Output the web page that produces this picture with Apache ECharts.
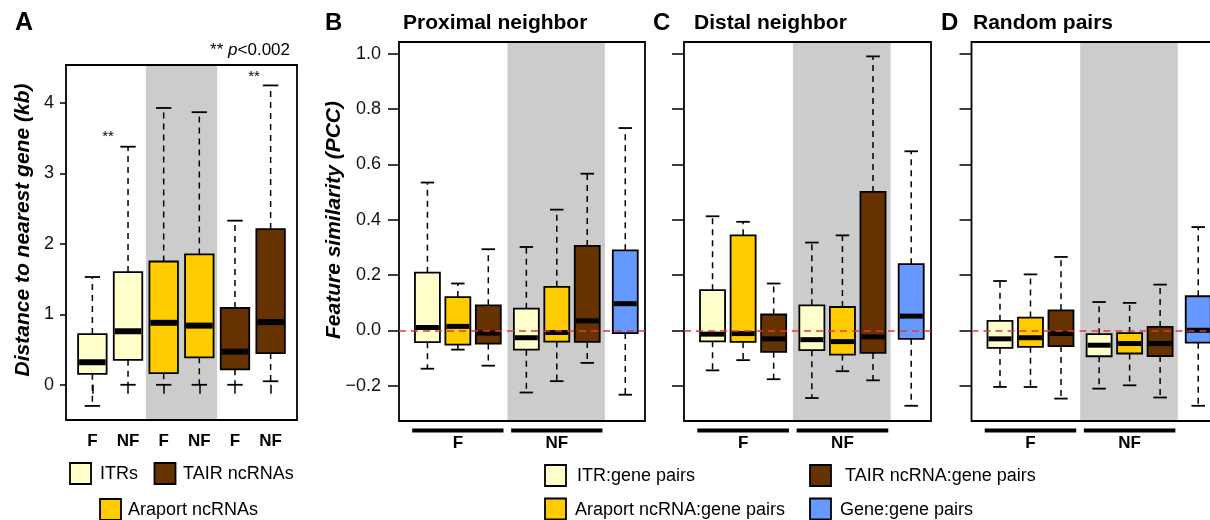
<!DOCTYPE html>
<html><head><meta charset="utf-8">
<script src="https://cdn.jsdelivr.net/npm/echarts@6/dist/echarts.min.js"></script>
<style>html,body{margin:0;padding:0;background:#fff}#c{width:1210px;height:520px}</style>
</head><body><div id="c"></div>
<script>
// ---------------- DATA (box stats: [lowWhisker, Q1, median, Q3, highWhisker]) ----------------
// Panel A: distance to nearest gene (kb); each array = [F, NF]
const distCategories = ['F', 'NF', 'F', 'NF', 'F', 'NF'];
const distITR     = [[-0.30, 0.156, 0.32, 0.72, 1.53], [0.00, 0.355, 0.76, 1.60, 3.38]];
const distAraport = [[0.00, 0.165, 0.88, 1.75, 3.93], [0.00, 0.39, 0.84, 1.85, 3.87]];
const distTAIR    = [[0.00, 0.22, 0.47, 1.09, 2.33], [0.05, 0.45, 0.89, 2.21, 4.25]];
const distTicks = [0, 1, 2, 3, 4];

// Panel B: proximal neighbor (PCC); [F, NF]
const proxITR     = [[-0.139, -0.043, 0.010, 0.208, 0.534], [-0.225, -0.070, -0.027, 0.078, 0.301]];
const proxAraport = [[-0.070, -0.052, 0.014, 0.120, 0.169], [-0.184, -0.041, -0.008, 0.157, 0.436]];
const proxTAIR    = [[-0.128, -0.048, -0.010, 0.090, 0.293], [-0.118, -0.042, 0.034, 0.305, 0.566]];
const proxGene    = [-0.233, -0.010, 0.096, 0.289, 0.731];

// Panel C: distal neighbor
const distalITR     = [[-0.145, -0.040, -0.014, 0.145, 0.412], [-0.245, -0.072, -0.034, 0.090, 0.317]];
const distalAraport = [[-0.108, -0.042, -0.012, 0.343, 0.392], [-0.148, -0.088, -0.041, 0.084, 0.343]];
const distalTAIR    = [[-0.177, -0.078, -0.031, 0.057, 0.169], [-0.181, -0.082, -0.024, 0.500, 0.990]];
const distalGene    = [-0.273, -0.031, 0.051, 0.239, 0.647];

// Panel D: random pairs
const randITR     = [[-0.205, -0.064, -0.031, 0.034, 0.178], [-0.211, -0.094, -0.054, -0.014, 0.102]];
const randAraport = [[-0.205, -0.060, -0.027, 0.046, 0.202], [-0.199, -0.084, -0.048, -0.010, 0.099]];
const randTAIR    = [[-0.247, -0.057, -0.012, 0.072, 0.265], [-0.243, -0.093, -0.048, 0.012, 0.165]];
const randGene    = [-0.273, -0.045, 0.000, 0.123, 0.373];

const pccTicks = [-0.2, 0, 0.2, 0.4, 0.6, 0.8, 1.0];
const groupLabels = ['F', 'NF'];
const panelTitles = ['Proximal neighbor', 'Distal neighbor', 'Random pairs'];

// ---------------- STYLE / LAYOUT ----------------
const FONT = '"Liberation Sans", Arial, Helvetica, sans-serif';
const colorList = ['#FFFFCC', '#FFCC00', '#663300', '#6699FF'];
const BAND = '#CCCCCC';

function renderBox(boxUnits, medianWidth) {
  return function (params, api) {
    const x = api.value(0);
    const pLow = api.coord([x, api.value(1)]);
    const pQ1 = api.coord([x, api.value(2)]);
    const pMed = api.coord([x, api.value(3)]);
    const pQ3 = api.coord([x, api.value(4)]);
    const pHigh = api.coord([x, api.value(5)]);
    const w = api.size([boxUnits, 0])[0];
    const cap = w * 0.27;
    const fill = colorList[api.value(6)];
    const dash = { stroke: '#000', lineWidth: 1.5, lineDash: [6, 5] };
    const solid = { stroke: '#000', lineWidth: 1.8 };
    return {
      type: 'group', children: [
        { type: 'line', shape: { x1: pQ3[0], y1: pQ3[1], x2: pHigh[0], y2: pHigh[1] }, style: dash },
        { type: 'line', shape: { x1: pQ1[0], y1: pQ1[1], x2: pLow[0], y2: pLow[1] }, style: dash },
        { type: 'line', shape: { x1: pHigh[0] - cap, y1: pHigh[1], x2: pHigh[0] + cap, y2: pHigh[1] }, style: solid },
        { type: 'line', shape: { x1: pLow[0] - cap, y1: pLow[1], x2: pLow[0] + cap, y2: pLow[1] }, style: solid },
        { type: 'rect', shape: { x: pQ3[0] - w / 2, y: pQ3[1], width: w, height: pQ1[1] - pQ3[1] },
          style: { fill: fill, stroke: '#000', lineWidth: 1.8 } },
        { type: 'line', shape: { x1: pMed[0] - w / 2 + 1, y1: pMed[1], x2: pMed[0] + w / 2 - 1, y2: pMed[1] },
          style: { stroke: '#000', lineWidth: medianWidth } }
      ]
    };
  };
}

function renderBand(params, api) {
  const cs = params.coordSys;
  const x0 = api.coord([api.value(0), 0])[0];
  const x1 = api.coord([api.value(1), 0])[0];
  return { type: 'rect', shape: { x: x0, y: cs.y, width: x1 - x0, height: cs.height }, style: { fill: BAND } };
}

function renderGroup(params, api) {
  const cs = params.coordSys;
  const x0 = api.coord([api.value(0), 0])[0];
  const x1 = api.coord([api.value(1), 0])[0];
  const yb = cs.y + cs.height;
  return {
    type: 'group', children: [
      { type: 'line', shape: { x1: x0, y1: yb + 9.5, x2: x1, y2: yb + 9.5 }, style: { stroke: '#000', lineWidth: 4 } },
      { type: 'text', x: (x0 + x1) / 2, y: yb + 22.5,
        style: { text: groupLabels[params.dataIndex], font: 'bold 17px ' + FONT, fill: '#000', align: 'center', verticalAlign: 'middle' } }
    ]
  };
}

// positions
const posA = [1, 2, 3, 4, 5, 6];
const posF = [1, 2, 3], posNF = [4.25, 5.25, 6.25], posGene = 7.5;

const aData = [
  [posA[0], ...distITR[0], 0], [posA[1], ...distITR[1], 0],
  [posA[2], ...distAraport[0], 1], [posA[3], ...distAraport[1], 1],
  [posA[4], ...distTAIR[0], 2], [posA[5], ...distTAIR[1], 2]
];
function pccData(itr, ara, tair, gene) {
  return [
    [posF[0], ...itr[0], 0], [posF[1], ...ara[0], 1], [posF[2], ...tair[0], 2],
    [posNF[0], ...itr[1], 0], [posNF[1], ...ara[1], 1], [posNF[2], ...tair[1], 2],
    [posGene, ...gene, 3]
  ];
}
const pccSets = [
  pccData(proxITR, proxAraport, proxTAIR, proxGene),
  pccData(distalITR, distalAraport, distalTAIR, distalGene),
  pccData(randITR, randAraport, randTAIR, randGene)
];

const gridBase = { show: true, borderColor: '#000', borderWidth: 1.8, backgroundColor: 'transparent',
  containLabel: false, outerBoundsMode: 'none' };
const grids = [
  Object.assign({ left: 66, top: 65, width: 231, height: 355 }, gridBase),
  Object.assign({ left: 399, top: 42, width: 246, height: 379 }, gridBase),
  Object.assign({ left: 684, top: 42, width: 247, height: 379 }, gridBase),
  Object.assign({ left: 971.5, top: 42, width: 246.5, height: 379 }, gridBase)
];

const labelStyle = { color: '#111', fontSize: 18, fontFamily: FONT };
const xAxes = [
  { gridIndex: 0, type: 'value', min: 0.26, max: 6.74, splitLine: { show: false },
    axisLine: { show: false },
    axisTick: { show: true, customValues: posA, length: 9, lineStyle: { color: '#000', width: 1.5 } },
    axisLabel: Object.assign({ customValues: posA, margin: 13, fontWeight: 'bold', fontSize: 17,
      formatter: function (v) { return distCategories[posA.indexOf(v)] || ''; } }, { color: '#000', fontFamily: FONT }) }
];
for (let i = 1; i <= 3; i++) {
  xAxes.push({ gridIndex: i, type: 'value', min: 0.066, max: 8.148, splitLine: { show: false },
    axisLine: { show: false }, axisTick: { show: false }, axisLabel: { show: false } });
}
const yAxes = [
  { gridIndex: 0, type: 'value', min: -0.5, max: 4.54, splitLine: { show: false },
    axisLine: { show: false },
    axisTick: { show: true, customValues: distTicks, length: 6, lineStyle: { color: '#000', width: 1.5 } },
    axisLabel: Object.assign({ customValues: distTicks, margin: 12 }, labelStyle) }
];
for (let i = 1; i <= 3; i++) {
  yAxes.push({ gridIndex: i, type: 'value', min: -0.328, max: 1.042, splitLine: { show: false },
    axisLine: { show: false },
    axisTick: { show: true, customValues: pccTicks, length: i === 1 ? 11 : 12, lineStyle: { color: '#000', width: 1.5 } },
    axisLabel: Object.assign({ show: i === 1, customValues: pccTicks, margin: 18,
      formatter: function (v) { return (v < 0 ? '\u2212' : '') + Math.abs(v).toFixed(1); } }, labelStyle) });
}

const series = [];
// bands
series.push({ type: 'custom', xAxisIndex: 0, yAxisIndex: 0, z: -1, silent: true, renderItem: renderBand, data: [[2.5, 4.5]] });
series.push({ type: 'custom', xAxisIndex: 0, yAxisIndex: 0, z: 3, silent: true, renderItem: renderBox(0.8, 6),
  encode: { x: 0, y: [1, 2, 3, 4, 5] }, data: aData });
for (let i = 1; i <= 3; i++) {
  series.push({ type: 'custom', xAxisIndex: i, yAxisIndex: i, z: -1, silent: true, renderItem: renderBand, data: [[3.63, 6.83]] });
  series.push({ type: 'custom', xAxisIndex: i, yAxisIndex: i, z: 3, silent: true, renderItem: renderBox(0.82, 5),
    encode: { x: 0, y: [1, 2, 3, 4, 5] }, data: pccSets[i - 1],
    markLine: { silent: true, symbol: 'none', label: { show: false }, animation: false,
      lineStyle: { color: '#E0393C', width: 1.5, type: [7, 5] }, data: [{ yAxis: 0 }] } });
  series.push({ type: 'custom', xAxisIndex: i, yAxisIndex: i, z: 3, silent: true, clip: false, renderItem: renderGroup,
    data: [[0.5, 3.5], [3.75, 6.75]] });
}

function txt(x, y, text, font, extra) {
  return Object.assign({ type: 'text', x: x, y: y, silent: true,
    style: Object.assign({ text: text, font: font, fill: '#000', align: 'left', verticalAlign: 'middle' }, extra || {}) });
}
function sq(x, y, color) {
  return { type: 'rect', silent: true, shape: { x: x, y: y, width: 21, height: 21 }, style: { fill: color, stroke: '#000', lineWidth: 1.8 } };
}
const legendFont = '18px ' + FONT;
const graphics = [
  txt(15, 23, 'A', 'bold 25px ' + FONT),
  txt(325, 23, 'B', 'bold 24px ' + FONT),
  txt(653, 23, 'C', 'bold 24px ' + FONT),
  txt(941, 23, 'D', 'bold 24px ' + FONT),
  txt(403, 23, panelTitles[0], 'bold 21px ' + FONT),
  txt(694, 23, panelTitles[1], 'bold 21px ' + FONT),
  txt(973, 23, panelTitles[2], 'bold 21px ' + FONT),
  { type: 'text', x: 23, y: 230, rotation: Math.PI / 2, silent: true,
    style: { text: 'Distance to nearest gene (kb)', font: 'italic bold 21px ' + FONT, fill: '#000', align: 'center', verticalAlign: 'middle' } },
  { type: 'text', x: 334, y: 220, rotation: Math.PI / 2, silent: true,
    style: { text: 'Feature similarity (PCC)', font: 'italic bold 21px ' + FONT, fill: '#000', align: 'center', verticalAlign: 'middle' } },
  { type: 'text', x: 290, y: 50, silent: true,
    style: { text: '{a|** }{b|p}{a|<0.002}', align: 'right', verticalAlign: 'middle',
      rich: { a: { font: '17px ' + FONT, fill: '#000' }, b: { font: 'italic 17px ' + FONT, fill: '#000' } } } },
  txt(108, 137, '**', '15px ' + FONT, { align: 'center' }),
  txt(254, 77, '**', '15px ' + FONT, { align: 'center' }),
  // legend A
  sq(70, 463, colorList[0]), txt(100, 474, 'ITRs', legendFont),
  sq(154.5, 463, colorList[2]), txt(183, 474, 'TAIR ncRNAs', legendFont),
  sq(100, 499, colorList[1]), txt(128, 510, 'Araport ncRNAs', legendFont),
  // legend B-D
  sq(545, 465, colorList[0]), txt(577, 476, 'ITR:gene pairs', legendFont),
  sq(545, 498.5, colorList[1]), txt(575, 510, 'Araport ncRNA:gene pairs', legendFont),
  sq(810, 465, colorList[2]), txt(845, 476, 'TAIR ncRNA:gene pairs', legendFont),
  sq(810, 498.5, colorList[3]), txt(840, 510, 'Gene:gene pairs', legendFont)
];

const chart = echarts.init(document.getElementById('c'), null, { renderer: 'canvas' });
chart.setOption({
  animation: false,
  backgroundColor: '#fff',
  grid: grids,
  xAxis: xAxes,
  yAxis: yAxes,
  series: series,
  graphic: { elements: graphics }
});
</script>
</body></html>
